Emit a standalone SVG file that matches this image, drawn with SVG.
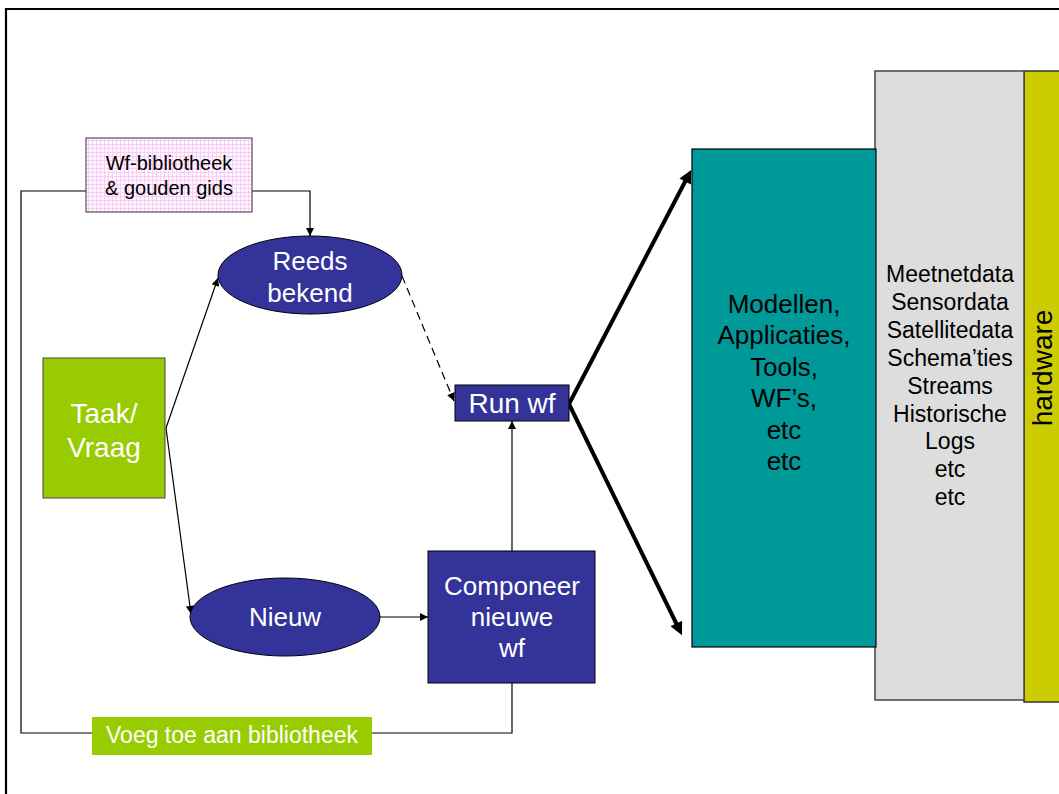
<svg xmlns="http://www.w3.org/2000/svg" width="1059" height="794" viewBox="0 0 1059 794">
  <style>
    text { font-family: "Liberation Sans", Arial, sans-serif; text-anchor: middle; }
    .blk { fill: #000; }
    .wht { fill: #fff; }
    .line { fill: none; stroke: #000; stroke-width: 1.2; }
    .thick { fill: none; stroke: #000; stroke-width: 4; }
    .blue { fill: #333399; stroke: #000; stroke-width: 1; }
    .green { fill: #99cc00; }
  </style>
  <defs>
    <pattern id="pinkgrid" width="4" height="4" patternUnits="userSpaceOnUse">
      <rect width="4" height="4" fill="#f6cef6"/>
      <rect x="1" y="1" width="3" height="3" fill="#fff6ff"/>
    </pattern>
    <marker id="ah" viewBox="0 0 10 10" refX="10" refY="5" markerWidth="10" markerHeight="8" orient="auto" markerUnits="userSpaceOnUse">
      <path d="M0,0 L10,5 L0,10 z" fill="#000"/>
    </marker>
    <marker id="ahBig" viewBox="0 0 10 10" refX="3" refY="5" markerWidth="16" markerHeight="13" orient="auto" markerUnits="userSpaceOnUse">
      <path d="M0,0 L10,5 L0,10 z" fill="#000"/>
    </marker>
  </defs>

  <rect width="1059" height="794" fill="#fff"/>
  <!-- outer frame -->
  <path d="M6,794 V9 H1059" fill="none" stroke="#000" stroke-width="2.2"/>

  <!-- connectors -->
  <g id="connectors">
    <!-- feedback loop: compose -> library -->
    <path class="line" d="M512,683 V733 H21 V191 H86"/>
    <!-- library -> already known -->
    <path class="line" d="M252,191 H310 V236" marker-end="url(#ah)"/>
    <!-- task -> already known / new -->
    <path class="line" d="M166,428 L218,278" marker-end="url(#ah)"/>
    <path class="line" d="M166,428 L191,614" marker-end="url(#ah)"/>
    <!-- already known -> run (dashed) -->
    <path class="line" d="M402,276 L454,401" stroke-width="2" stroke-dasharray="8,5" marker-end="url(#ah)"/>
    <!-- new -> compose -->
    <path class="line" d="M380,617 H428" marker-end="url(#ah)"/>
    <!-- compose -> run -->
    <path class="line" d="M512,551 V421" marker-end="url(#ah)"/>
    <!-- run -> resources -->
    <path class="thick" d="M569,404 L687,178" marker-end="url(#ahBig)"/>
    <path class="thick" d="M569,404 L678,627" marker-end="url(#ahBig)"/>
  </g>

  <g id="bibliotheek">
    <rect x="86" y="138" width="166" height="74" fill="url(#pinkgrid)" stroke="#333" stroke-width="1"/>
    <text class="blk" x="169" y="170" font-size="20">Wf-bibliotheek</text>
    <text class="blk" x="169" y="195" font-size="20">&amp; gouden gids</text>
  </g>

  <g id="reeds-bekend">
    <ellipse class="blue" cx="310" cy="275" rx="92" ry="39"/>
    <text class="wht" x="310" y="270" font-size="26">Reeds</text>
    <text class="wht" x="310" y="302" font-size="26">bekend</text>
  </g>

  <g id="taak-vraag">
    <rect class="green" x="43" y="358" width="122" height="140" stroke="#444" stroke-width="1"/>
    <text class="wht" x="104" y="423" font-size="28">Taak/</text>
    <text class="wht" x="104" y="457" font-size="28">Vraag</text>
  </g>

  <g id="nieuw">
    <ellipse class="blue" cx="285" cy="617" rx="95" ry="39"/>
    <text class="wht" x="285" y="626" font-size="26">Nieuw</text>
  </g>

  <g id="run-wf">
    <rect class="blue" x="455" y="385" width="114" height="36" stroke="#222"/>
    <text class="wht" x="512" y="413" font-size="28">Run wf</text>
  </g>

  <g id="componeer">
    <rect class="blue" x="428" y="551" width="167" height="132" stroke="#222"/>
    <text class="wht" x="512" y="595" font-size="26">Componeer</text>
    <text class="wht" x="512" y="626" font-size="26">nieuwe</text>
    <text class="wht" x="512" y="657" font-size="26">wf</text>
  </g>

  <g id="voeg-toe">
    <rect class="green" x="92" y="717" width="280" height="38"/>
    <text class="wht" x="232" y="743" font-size="23">Voeg toe aan bibliotheek</text>
  </g>

  <g id="hardware">
    <rect x="1024" y="71" width="40" height="631" fill="#cccc00" stroke="#333" stroke-width="1.5"/>
    <text class="blk" transform="translate(1052,368) rotate(-90)" font-size="28">hardware</text>
  </g>

  <g id="data">
    <rect x="875" y="71" width="149" height="629" fill="#dddddd" stroke="#444" stroke-width="1.5"/>
    <text class="blk" x="950" y="282" font-size="23">Meetnetdata</text>
    <text class="blk" x="950" y="310" font-size="23">Sensordata</text>
    <text class="blk" x="950" y="338" font-size="23">Satellitedata</text>
    <text class="blk" x="950" y="366" font-size="23">Schema’ties</text>
    <text class="blk" x="950" y="394" font-size="23">Streams</text>
    <text class="blk" x="950" y="422" font-size="23">Historische</text>
    <text class="blk" x="950" y="449" font-size="23">Logs</text>
    <text class="blk" x="950" y="477" font-size="23">etc</text>
    <text class="blk" x="950" y="505" font-size="23">etc</text>
  </g>

  <g id="modellen">
    <rect x="692" y="149" width="184" height="498" fill="#009999" stroke="#000" stroke-width="1.2"/>
    <text class="blk" x="784" y="313" font-size="26">Modellen,</text>
    <text class="blk" x="784" y="344" font-size="26">Applicaties,</text>
    <text class="blk" x="784" y="376" font-size="26">Tools,</text>
    <text class="blk" x="784" y="407" font-size="26">WF’s,</text>
    <text class="blk" x="784" y="439" font-size="26">etc</text>
    <text class="blk" x="784" y="470" font-size="26">etc</text>
  </g>
</svg>
